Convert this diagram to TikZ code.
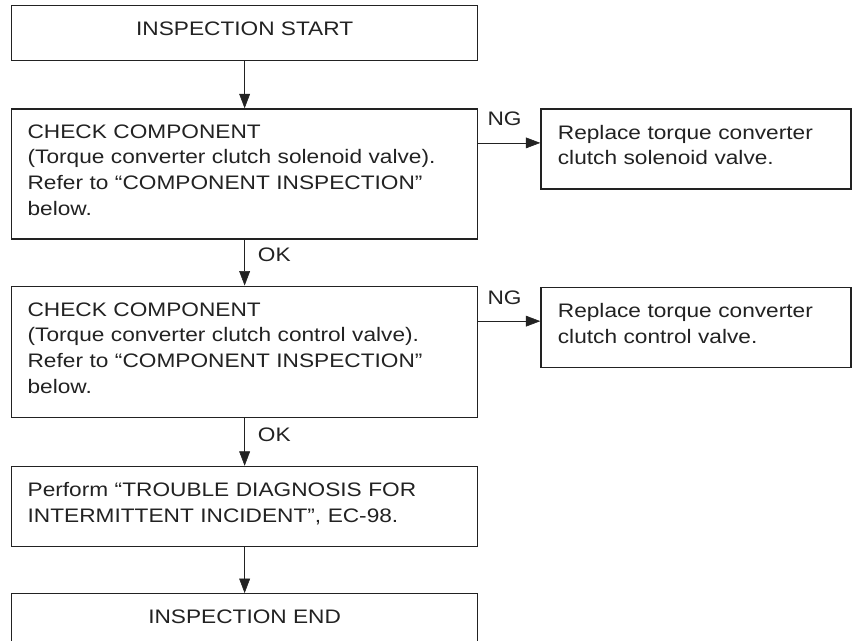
\documentclass[tikz,border=0pt]{standalone}
\usepackage{fontspec}
\setmainfont{Liberation Sans}[FakeStretch=1.16]
\usepackage{xcolor}
\usetikzlibrary{positioning,arrows.meta}
\definecolor{ink}{HTML}{222222}

\begin{document}
\begin{tikzpicture}[
>={Triangle[length=0.36cm,width=0.27cm]}, node distance=1.15cm, color=ink,
font=\fontsize{13.9pt}{18.3pt}\selectfont,
termbox/.style={draw, line width=0.9pt, minimum width=11.65cm, minimum height=1.375cm, inner sep=0pt, text depth=0.225cm},
chkbox/.style={draw, line width=0.9pt, text width=10.85cm, inner xsep=0.4cm, inner ysep=0pt, align=left, execute at end node=\strut},
repbox/.style={draw, line width=0.9pt, text width=6.9cm, inner xsep=0.425cm, inner ysep=0pt, minimum height=2cm, align=left, execute at end node=\strut},
flag/.style={inner sep=0pt}
]
\useasboundingbox (0,0) rectangle (21.3,-16.025);
\node[termbox, anchor=north west] (start) at (0.275,-0.125) {INSPECTION START};
\node[chkbox, minimum height=3.25cm, below=1.175cm of start] (chk1) {CHECK COMPONENT\\(Torque converter clutch solenoid valve).\\Refer to ``COMPONENT INSPECTION''\\below.};
\node[repbox, right=1.55cm of chk1.north east, anchor=north west] (rep1) {Replace torque converter\\clutch solenoid valve.};
\node[chkbox, minimum height=3.275cm, below=of chk1] (chk2) {CHECK COMPONENT\\(Torque converter clutch control valve).\\Refer to ``COMPONENT INSPECTION''\\below.};
\node[repbox, right=1.55cm of chk2.north east, anchor=north west, yshift=-0.025cm] (rep2) {Replace torque converter\\clutch control valve.};
\node[chkbox, minimum height=2cm, below=1.2cm of chk2] (perf) {Perform ``TROUBLE DIAGNOSIS FOR\\INTERMITTENT INCIDENT'', EC-98.};
\node[termbox, below=of perf] (finish) {INSPECTION END};
% main line
\draw[->] (start) -- (chk1);
\draw[->] (chk1) -- (chk2) node[flag, pos=0, anchor=north west, xshift=0.325cm, yshift=-0.2cm] {OK};
\draw[->] (chk2) -- (perf) node[flag, pos=0, anchor=north west, xshift=0.325cm, yshift=-0.24cm] {OK};
\draw[->] (perf) -- (finish);
% NG branches
\draw[->] ([yshift=0.15cm]chk1.east |- rep1.west) -- ([yshift=0.15cm]rep1.west) node[flag, pos=0, anchor=south west, xshift=0.225cm, yshift=0.425cm] {NG};
\draw[->] ([yshift=0.15cm]chk2.east |- rep2.west) -- ([yshift=0.15cm]rep2.west) node[flag, pos=0, anchor=south west, xshift=0.225cm, yshift=0.41cm] {NG};
\end{tikzpicture}
\end{document}
